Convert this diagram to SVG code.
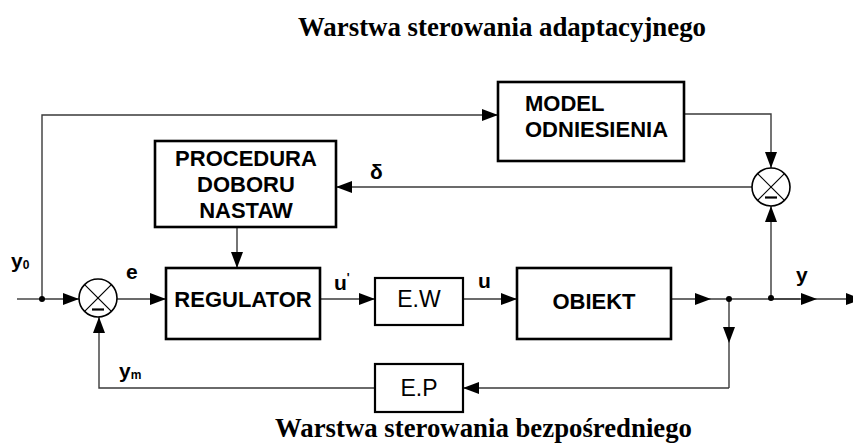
<svg xmlns="http://www.w3.org/2000/svg" width="853" height="445" viewBox="0 0 853 445">
<defs>
<marker id="arr" markerUnits="userSpaceOnUse" markerWidth="17" markerHeight="12" refX="16" refY="6" orient="auto">
<path d="M0,0 L16,6 L0,12 z" fill="#000"/>
</marker>
<style>
.ln{fill:none;stroke:#3a3a3a;stroke-width:1.4}
.ar{fill:none;stroke:#3a3a3a;stroke-width:1.4;marker-end:url(#arr)}
.box{fill:#fff;stroke:#000;stroke-width:2.6}
.sbox{fill:#fff;stroke:#000;stroke-width:2.2}
.bt{font-family:"Liberation Sans",Arial,sans-serif;font-weight:bold;font-size:22px;fill:#000}
.nt{font-family:"Liberation Sans",Arial,sans-serif;font-size:23px;fill:#000}
.lb{font-family:"Liberation Sans",Arial,sans-serif;font-weight:bold;font-size:21px;fill:#000}
.sub{font-size:12px}
.tt{font-family:"Liberation Serif","Times New Roman",serif;font-weight:bold;font-size:27px;fill:#000}
.sum{fill:#fff;stroke:#000;stroke-width:1.6}
.x{stroke:#000;stroke-width:1.2}
.dot{fill:#000}
</style>
</defs>
<rect width="853" height="445" fill="#fff"/>

<g id="connectors">
<line class="ln" x1="17" y1="299" x2="42" y2="299"/>
<line class="ar" x1="42" y1="299" x2="79" y2="299"/>
<polyline class="ar" points="42,299 42,115 498,115"/>
<line class="ar" x1="117" y1="299" x2="166" y2="299"/>
<line class="ar" x1="237" y1="227" x2="237" y2="268"/>
<line class="ar" x1="320" y1="299" x2="375" y2="299"/>
<line class="ar" x1="463" y1="299" x2="517" y2="299"/>
<line class="ar" x1="671" y1="299" x2="711" y2="299"/>
<line class="ln" x1="711" y1="299" x2="800" y2="299"/>
<line class="ar" x1="771" y1="299" x2="817" y2="299"/>
<line class="ln" x1="817" y1="299" x2="853" y2="299"/>
<polygon points="846,293 862,299 846,305" fill="#000"/>
<line class="ar" x1="729" y1="299" x2="729" y2="343"/>
<polyline class="ln" points="729,343 729,388"/>
<line class="ar" x1="729" y1="388" x2="463" y2="388"/>
<polyline class="ar" points="375,388 99,388 99,317"/>
<line class="ar" x1="771" y1="299" x2="771" y2="206"/>
<polyline class="ar" points="684,114 771,114 771,168"/>
<line class="ar" x1="752" y1="187" x2="336" y2="187"/>
<circle class="dot" cx="42" cy="299" r="3"/>
<circle class="dot" cx="729" cy="299" r="3"/>
<circle class="dot" cx="771" cy="298" r="3"/>
</g>

<g id="sum1">
<circle class="sum" cx="98" cy="298" r="19"/>
<line class="x" x1="84.6" y1="284.6" x2="111.4" y2="311.4"/>
<line class="x" x1="111.4" y1="284.6" x2="84.6" y2="311.4"/>
<line x1="92" y1="309.5" x2="104" y2="309.5" stroke="#000" stroke-width="2.2"/>
</g>

<g id="sum2">
<circle class="sum" cx="771" cy="187" r="19"/>
<line class="x" x1="757.6" y1="173.6" x2="784.4" y2="200.4"/>
<line class="x" x1="784.4" y1="173.6" x2="757.6" y2="200.4"/>
<line x1="765" y1="197.5" x2="777" y2="197.5" stroke="#000" stroke-width="2.2"/>
</g>

<g id="procedura">
<rect class="box" x="155" y="141" width="181" height="86"/>
<text class="bt" x="246" y="166" text-anchor="middle">PROCEDURA</text>
<text class="bt" x="246" y="192" text-anchor="middle">DOBORU</text>
<text class="bt" x="246" y="218" text-anchor="middle">NASTAW</text>
</g>

<g id="model">
<rect class="box" x="498" y="82" width="186" height="79"/>
<text class="bt" x="525" y="111">MODEL</text>
<text class="bt" x="525" y="137">ODNIESIENIA</text>
</g>

<g id="regulator">
<rect class="box" x="166" y="268" width="154" height="71"/>
<text class="bt" x="243" y="307" text-anchor="middle">REGULATOR</text>
</g>

<g id="ew">
<rect class="sbox" x="375" y="278" width="88" height="47"/>
<text class="nt" x="419" y="307" text-anchor="middle">E.W</text>
</g>

<g id="obiekt">
<rect class="box" x="517" y="268" width="154" height="71"/>
<text class="bt" x="594" y="309" text-anchor="middle">OBIEKT</text>
</g>

<g id="ep">
<rect class="sbox" x="375" y="364" width="88" height="48"/>
<text class="nt" x="419" y="396" text-anchor="middle">E.P</text>
</g>

<g id="labels">
<text class="tt" x="298" y="36" textLength="408" lengthAdjust="spacingAndGlyphs">Warstwa sterowania adaptacyjnego</text>
<text class="tt" x="275" y="437" textLength="417" lengthAdjust="spacingAndGlyphs">Warstwa sterowania bezpośredniego</text>
<text class="lb" x="11" y="268">y<tspan class="sub" dy="1">0</tspan></text>
<text class="lb" x="126" y="279">e</text>
<text class="lb" x="119" y="378">y<tspan class="sub" dy="1">m</tspan></text>
<text class="lb" x="334" y="290">u<tspan class="sub" dy="-8">'</tspan></text>
<text class="lb" x="478" y="288">u</text>
<text class="lb" x="796" y="282">y</text>
<text class="lb" x="370" y="179">δ</text>
</g>
</svg>
